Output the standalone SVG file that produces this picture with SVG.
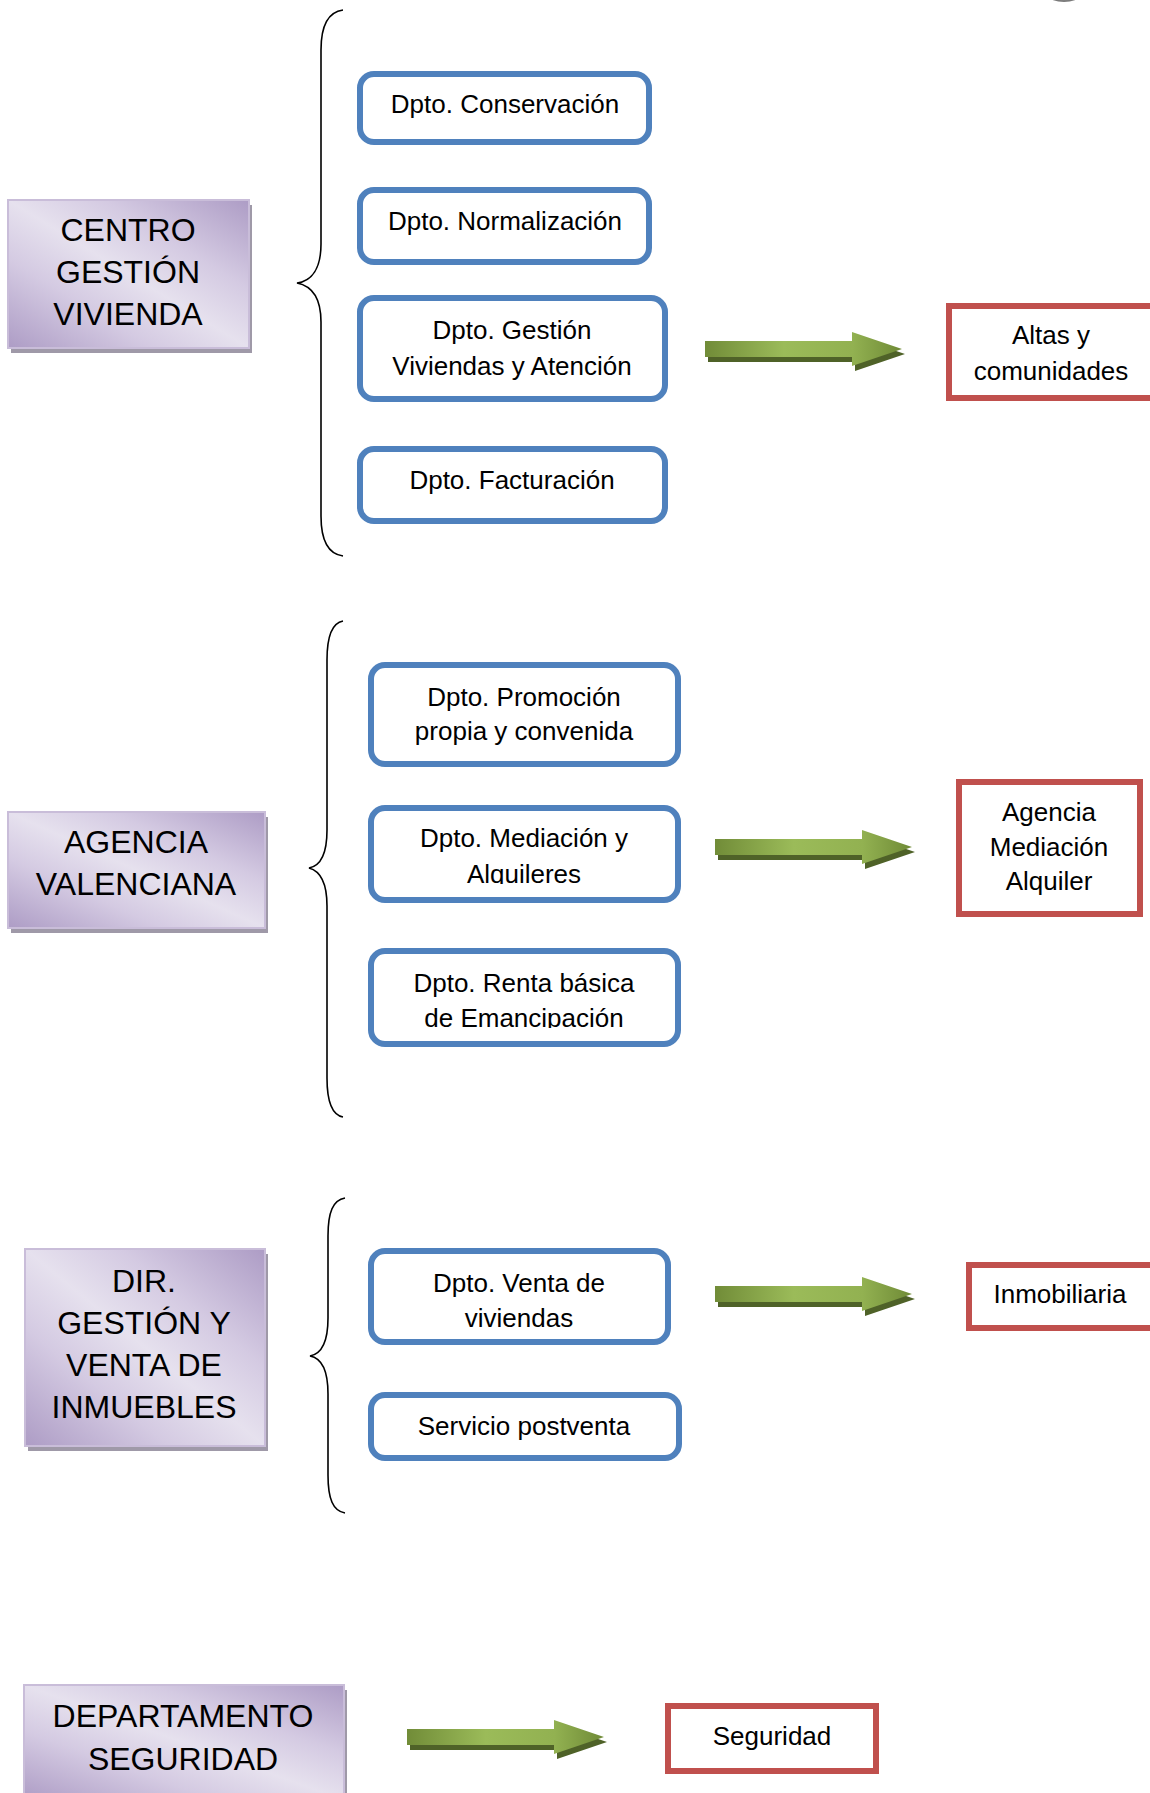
<svg xmlns="http://www.w3.org/2000/svg" width="1150" height="1793" viewBox="0 0 1150 1793">
  <style>
    text { font-family: "Liberation Sans", Arial, sans-serif; fill: #000; text-anchor: middle; }
    .head { font-size: 32px; }
    .lbl { font-size: 26px; }
    .unit rect.face { fill: url(#lilac); stroke: #c9bdd9; stroke-width: 2; }
    .unit rect.shade { fill: #9f99a8; }
    .dept rect { fill: #fff; stroke: #4f81bd; stroke-width: 6; }
    .area rect { fill: #fff; stroke: #c0504d; stroke-width: 6; }
    .brace { fill: none; stroke: #000; stroke-width: 1.6; }
  </style>
  <defs>
    <linearGradient id="lilac" x1="0" y1="1" x2="1" y2="0">
      <stop offset="0" stop-color="#ad9cc5"/>
      <stop offset="0.3" stop-color="#d4cae2"/>
      <stop offset="0.5" stop-color="#e6e1ee"/>
      <stop offset="0.7" stop-color="#d4cae2"/>
      <stop offset="1" stop-color="#ad9cc5"/>
    </linearGradient>
    <linearGradient id="leaf" x1="0" y1="0" x2="1" y2="0">
      <stop offset="0" stop-color="#718c38"/>
      <stop offset="0.4" stop-color="#9bbb59"/>
      <stop offset="0.75" stop-color="#92b151"/>
      <stop offset="1" stop-color="#6f8a36"/>
    </linearGradient>
    <radialGradient id="blob" cx="0.5" cy="0.3" r="0.6">
      <stop offset="0" stop-color="#ffffff"/>
      <stop offset="1" stop-color="#7a7a7a"/>
    </radialGradient>
    <!-- block arrow, origin at the shaft's top-left corner -->
    <g id="arrow">
      <path d="M3,5 H150 V-4 L200,13 L150,30 V21 H3 Z" fill="#4f6228"/>
      <path d="M0,0 H147 V-9 L197,8 L147,25 V16 H0 Z" fill="url(#leaf)"/>
    </g>
    <clipPath id="cutMed"><rect x="360" y="800" width="330" height="84"/></clipPath>
    <clipPath id="cutRenta"><rect x="360" y="940" width="330" height="88"/></clipPath>
  </defs>

  <rect width="1150" height="1793" fill="#fff"/>
  <ellipse cx="1064" cy="-4" rx="15" ry="6" fill="url(#blob)"/>

  <!-- braces and arrows -->
  <g id="connectors">
    <path class="brace" d="M343,10 C328,12 321,26 321,50 L321,244 C321,268 312,281 297,283 C312,286 321,298 321,322 L321,516 C321,540 328,554 343,556"/>
    <path class="brace" d="M343,621 C332,623 327,636 327,660 L327,830 C327,854 320,866 309,868 C320,871 327,882 327,906 L327,1078 C327,1102 332,1115 343,1117"/>
    <path class="brace" d="M345,1198 C333,1200 328,1212 328,1236 L328,1318 C328,1342 321,1354 310,1356 C321,1358 328,1370 328,1394 L328,1475 C328,1499 333,1511 345,1513"/>
    <use href="#arrow" x="705" y="341"/>
    <use href="#arrow" x="715" y="839"/>
    <use href="#arrow" x="715" y="1286"/>
    <use href="#arrow" x="407" y="1729"/>
  </g>

  <!-- organisational units -->
  <g id="centro" class="unit">
    <rect class="shade" x="11" y="205" width="241" height="148"/>
    <rect class="face" x="8" y="200" width="241" height="148"/>
    <text class="head" x="128" y="241">CENTRO</text>
    <text class="head" x="128" y="283">GESTIÓN</text>
    <text class="head" x="128" y="325">VIVIENDA</text>
  </g>
  <g id="agencia" class="unit">
    <rect class="shade" x="11" y="817" width="257" height="116"/>
    <rect class="face" x="8" y="812" width="257" height="116"/>
    <text class="head" x="136" y="853">AGENCIA</text>
    <text class="head" x="136" y="895">VALENCIANA</text>
  </g>
  <g id="direccion" class="unit">
    <rect class="shade" x="28" y="1254" width="240" height="197"/>
    <rect class="face" x="25" y="1249" width="240" height="197"/>
    <text class="head" x="144" y="1292">DIR.</text>
    <text class="head" x="144" y="1334">GESTIÓN Y</text>
    <text class="head" x="144" y="1376">VENTA DE</text>
    <text class="head" x="144" y="1418">INMUEBLES</text>
  </g>
  <g id="seguridad-dep" class="unit">
    <rect class="shade" x="27" y="1690" width="320" height="115"/>
    <rect class="face" x="24" y="1685" width="320" height="115"/>
    <text class="head" x="183" y="1727">DEPARTAMENTO</text>
    <text class="head" x="183" y="1770">SEGURIDAD</text>
  </g>

  <!-- departments -->
  <g id="conservacion" class="dept">
    <rect x="360" y="74" width="289" height="68" rx="14"/>
    <text class="lbl" x="505" y="113">Dpto. Conservación</text>
  </g>
  <g id="normalizacion" class="dept">
    <rect x="360" y="190" width="289" height="72" rx="14"/>
    <text class="lbl" x="505" y="230">Dpto. Normalización</text>
  </g>
  <g id="gestion-viviendas" class="dept">
    <rect x="360" y="298" width="305" height="101" rx="14"/>
    <text class="lbl" x="512" y="339">Dpto. Gestión</text>
    <text class="lbl" x="512" y="375">Viviendas y Atención</text>
  </g>
  <g id="facturacion" class="dept">
    <rect x="360" y="449" width="305" height="72" rx="14"/>
    <text class="lbl" x="512" y="489">Dpto. Facturación</text>
  </g>
  <g id="promocion" class="dept">
    <rect x="371" y="665" width="307" height="99" rx="14"/>
    <text class="lbl" x="524" y="706">Dpto. Promoción</text>
    <text class="lbl" x="524" y="740">propia y convenida</text>
  </g>
  <g id="mediacion" class="dept">
    <rect x="371" y="808" width="307" height="92" rx="14"/>
    <text class="lbl" x="524" y="847">Dpto. Mediación y</text>
    <text class="lbl" x="524" y="883" clip-path="url(#cutMed)">Alquileres</text>
  </g>
  <g id="renta-basica" class="dept">
    <rect x="371" y="951" width="307" height="93" rx="14"/>
    <text class="lbl" x="524" y="992">Dpto. Renta básica</text>
    <text class="lbl" x="524" y="1027" clip-path="url(#cutRenta)">de Emancipación</text>
  </g>
  <g id="venta" class="dept">
    <rect x="371" y="1251" width="297" height="91" rx="14"/>
    <text class="lbl" x="519" y="1292">Dpto. Venta de</text>
    <text class="lbl" x="519" y="1327">viviendas</text>
  </g>
  <g id="postventa" class="dept">
    <rect x="371" y="1395" width="308" height="63" rx="14"/>
    <text class="lbl" x="524" y="1435">Servicio postventa</text>
  </g>

  <!-- resulting areas -->
  <g id="altas" class="area">
    <rect x="949" y="306" width="210" height="92"/>
    <text class="lbl" x="1051" y="344">Altas y</text>
    <text class="lbl" x="1051" y="380">comunidades</text>
  </g>
  <g id="agencia-mediacion" class="area">
    <rect x="959" y="782" width="181" height="132"/>
    <text class="lbl" x="1049" y="821">Agencia</text>
    <text class="lbl" x="1049" y="856">Mediación</text>
    <text class="lbl" x="1049" y="890">Alquiler</text>
  </g>
  <g id="inmobiliaria" class="area">
    <rect x="969" y="1265" width="190" height="63"/>
    <text class="lbl" x="1060" y="1303">Inmobiliaria</text>
  </g>
  <g id="seguridad" class="area">
    <rect x="668" y="1706" width="208" height="65"/>
    <text class="lbl" x="772" y="1745">Seguridad</text>
  </g>
</svg>
